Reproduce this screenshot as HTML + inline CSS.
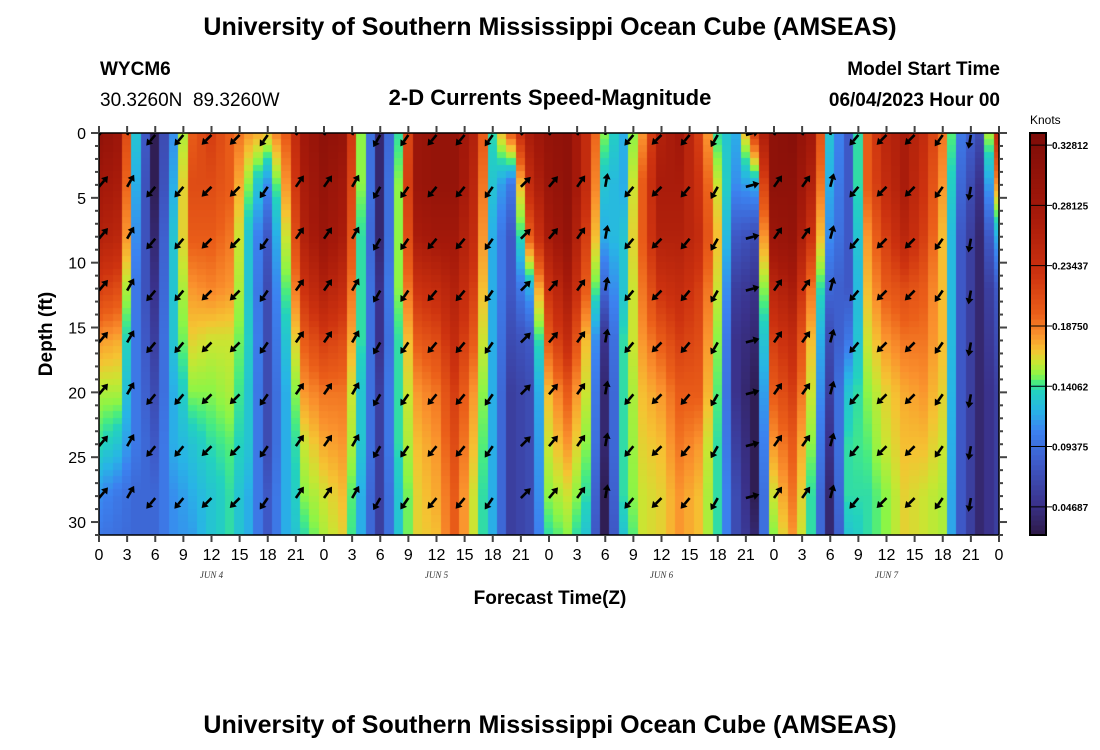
<!DOCTYPE html>
<html><head><meta charset="utf-8"><style>
body{margin:0;background:#fff;width:1100px;height:750px;overflow:hidden;position:relative;font-family:"Liberation Sans",sans-serif}
#heat{position:absolute;left:99px;top:133px}
#ov{position:absolute;left:0;top:0}
</style></head><body>
<canvas id="heat" width="900" height="402"></canvas>
<svg id="ov" width="1100" height="750">
<text x="550" y="35" text-anchor="middle" font-size="25" font-weight="bold">University of Southern Mississippi Ocean Cube (AMSEAS)</text>
<text x="100" y="75" font-size="19" font-weight="bold">WYCM6</text>
<text x="100" y="106" font-size="19" xml:space="preserve">30.3260N  89.3260W</text>
<text x="550" y="105" text-anchor="middle" font-size="22" font-weight="bold">2-D Currents Speed-Magnitude</text>
<text x="1000" y="75" text-anchor="end" font-size="19" font-weight="bold">Model Start Time</text>
<text x="1000" y="106" text-anchor="end" font-size="19" font-weight="bold">06/04/2023 Hour 00</text>
<text transform="translate(52,334) rotate(-90)" text-anchor="middle" font-size="19" font-weight="bold">Depth (ft)</text>
<text x="550" y="604" text-anchor="middle" font-size="19" font-weight="bold">Forecast Time(Z)</text>
<text x="550" y="733" text-anchor="middle" font-size="25" font-weight="bold">University of Southern Mississippi Ocean Cube (AMSEAS)</text>
<text x="1030" y="124" font-size="12">Knots</text>
<g id="arrows"></g>
<g id="axes"></g>
<g id="cbar"></g>
</svg>
<script>
// Data: speed (knots) at depths x hours (every 2 hours, 0..96)
const depths=[0,4,8,12,16,20,24,28,31];
const hours=[0,2,4,6,8,10,12,14,16,18,20,22,24,26,28,30,32,34,36,38,40,42,44,46,48,50,52,54,56,58,60,62,64,66,68,70,72,74,76,78,80,82,84,86,88,90,92,94,96];
const speedCols=[
[.31,.28,.26,.22,.18,.155,.14,.11,.10],
[.29,.27,.25,.21,.175,.155,.13,.10,.095],
[.13,.12,.11,.10,.10,.10,.10,.09,.09],
[.03,.03,.04,.05,.06,.07,.08,.09,.09],
[.11,.12,.13,.13,.13,.12,.12,.11,.11],
[.20,.21,.20,.18,.165,.15,.13,.12,.115],
[.22,.21,.20,.185,.16,.15,.14,.13,.13],
[.20,.20,.19,.18,.16,.155,.145,.14,.14],
[.18,.15,.13,.13,.135,.13,.13,.12,.12],
[.17,.11,.08,.07,.07,.07,.07,.08,.08],
[.20,.18,.16,.145,.13,.12,.12,.12,.12],
[.28,.27,.26,.23,.20,.18,.16,.15,.14],
[.31,.30,.29,.26,.22,.19,.175,.16,.155],
[.30,.28,.27,.24,.21,.19,.18,.17,.165],
[.15,.15,.14,.14,.14,.13,.13,.12,.12],
[.04,.04,.04,.05,.05,.06,.06,.06,.06],
[.14,.15,.15,.15,.14,.14,.14,.13,.13],
[.29,.29,.27,.23,.20,.18,.17,.165,.165],
[.30,.30,.28,.24,.21,.19,.18,.175,.17],
[.30,.30,.28,.26,.24,.22,.21,.20,.20],
[.26,.25,.24,.22,.20,.18,.17,.16,.16],
[.14,.13,.12,.12,.12,.12,.12,.12,.12],
[.20,.10,.08,.08,.07,.06,.06,.06,.06],
[.27,.24,.20,.12,.08,.07,.07,.07,.07],
[.30,.29,.27,.23,.20,.17,.16,.15,.14],
[.31,.31,.30,.27,.24,.20,.18,.16,.15],
[.24,.24,.22,.20,.17,.16,.15,.14,.13],
[.15,.13,.12,.09,.05,.04,.04,.03,.03],
[.12,.12,.13,.13,.14,.14,.14,.14,.13],
[.18,.20,.20,.19,.18,.17,.165,.16,.16],
[.26,.27,.26,.23,.20,.18,.17,.165,.165],
[.28,.27,.26,.24,.22,.20,.19,.18,.18],
[.22,.23,.24,.22,.21,.20,.18,.17,.17],
[.14,.16,.17,.16,.15,.145,.14,.14,.14],
[.12,.11,.08,.06,.05,.05,.06,.07,.07],
[.22,.12,.07,.05,.04,.03,.03,.03,.04],
[.31,.31,.29,.25,.22,.20,.18,.16,.15],
[.32,.31,.30,.27,.24,.22,.20,.19,.18],
[.28,.26,.23,.19,.17,.16,.15,.14,.14],
[.13,.12,.11,.09,.07,.06,.05,.04,.04],
[.08,.08,.08,.08,.10,.13,.14,.14,.13],
[.20,.20,.18,.17,.16,.15,.145,.14,.14],
[.25,.24,.22,.20,.18,.165,.16,.15,.15],
[.27,.27,.25,.21,.19,.175,.17,.165,.165],
[.24,.23,.22,.20,.19,.18,.17,.16,.16],
[.19,.18,.17,.17,.17,.165,.16,.155,.155],
[.10,.09,.08,.08,.08,.08,.08,.08,.08],
[.07,.05,.04,.04,.04,.04,.04,.04,.04],
[.24,.18,.12,.08,.07,.06,.06,.06,.06]
];
// arrow directions (degrees, 0=east, CCW) every 3 hours, 0..93
const arrowHours=[0,3,6,9,12,15,18,21,24,27,30,33,36,39,42,45,48,51,54,57,60,63,66,69,72,75,78,81,84,87,90,93];
const arrowDir=[50,60,230,230,225,225,235,55,55,60,240,235,230,230,235,45,50,55,80,230,225,230,240,15,55,55,75,230,225,225,235,260];
const arrowDepths=[0.15,4.15,8.15,12.15,16.15,20.15,24.15,28.15];
const cbTicks=[0.32812,0.28125,0.23437,0.18750,0.14062,0.09375,0.04687];
const X0=99,W=900,Y0=133,H=402,DMAX=31,HMAX=96,VMIN=0.025,VMAX=0.3375;
const xs=h=>X0+h/HMAX*W, ys=d=>Y0+d/DMAX*H;
const stops=[[0,[45,25,70]],[0.08,[58,50,140]],[0.18,[62,90,200]],[0.26,[60,130,240]],[0.31,[40,180,230]],[0.36,[35,210,190]],[0.38,[70,235,130]],[0.40,[140,245,70]],[0.43,[200,230,50]],[0.46,[245,195,50]],[0.5,[250,145,45]],[0.55,[235,95,25]],[0.65,[205,50,15]],[0.8,[165,25,10]],[1,[125,12,8]]];
function col(v){let t=Math.max(0,Math.min(1,(v-VMIN)/(VMAX-VMIN)));for(let i=1;i<stops.length;i++){if(t<=stops[i][0]){const a=stops[i-1],b=stops[i],f=(t-a[0])/(b[0]-a[0]);return 'rgb('+a[1].map((c,k)=>Math.round(c+(b[1][k]-c)*f)).join(',')+')';}}return 'rgb(125,12,8)';}
function sample(h,d){let i=0;while(i<hours.length-2&&h>hours[i+1])i++;let fh=Math.max(0,Math.min(1,(h-hours[i])/(hours[i+1]-hours[i])));let j=0;while(j<depths.length-2&&d>depths[j+1])j++;let fd=Math.max(0,Math.min(1,(d-depths[j])/(depths[j+1]-depths[j])));
const a=speedCols[i][j]*(1-fd)+speedCols[i][j+1]*fd,b=speedCols[i+1][j]*(1-fd)+speedCols[i+1][j+1]*fd;return a*(1-fh)+b*fh;}
const cv=document.getElementById('heat').getContext('2d');
for(let h=0;h<=HMAX;h++){for(let k=0;k<62;k++){const d=k*0.5;cv.fillStyle=col(sample(h,d+0.25));const x1=xs(h-0.5)-X0,x2=xs(h+0.5)-X0;cv.fillRect(Math.floor(x1),Math.floor(ys(d)-Y0),Math.ceil(x2-x1)+1,Math.ceil(H/62)+1);}}
const NS='http://www.w3.org/2000/svg';
function mk(tag,attrs,parent){const e=document.createElementNS(NS,tag);for(const k in attrs)e.setAttribute(k,attrs[k]);parent.appendChild(e);return e;}
const ag=document.getElementById('arrows');
mk('clipPath',{id:'pc'},ag);mk('rect',{x:X0,y:Y0,width:W,height:H},document.getElementById('pc'));
ag.setAttribute('clip-path','url(#pc)');
arrowHours.forEach((h,i)=>{arrowDepths.forEach(d=>{
 const a=arrowDir[i]*Math.PI/180,L=14,x=xs(h),y=ys(d),ex=x+L*Math.cos(a),ey=y-L*Math.sin(a);
 const g=mk('g',{},ag);
 
 
 const bx=x+(L-6)*Math.cos(a),by=y-(L-6)*Math.sin(a),px=-Math.sin(a)*4,py=-Math.cos(a)*4;
 mk('line',{x1:x,y1:y,x2:bx,y2:by,stroke:'#000','stroke-width':2.6},g);
 mk('polygon',{points:`${ex},${ey} ${bx+px},${by+py} ${bx-px},${by-py}`,fill:'#000'},g);
});});
const ax=document.getElementById('axes');
mk('rect',{x:X0,y:Y0,width:W,height:H,fill:'none',stroke:'#000','stroke-width':1.5},ax);
for(let h=0;h<=HMAX;h+=3){const x=xs(h);
 mk('line',{x1:x,y1:Y0+H,x2:x,y2:Y0+H+7,stroke:'#444','stroke-width':2},ax);
 mk('line',{x1:x,y1:Y0,x2:x,y2:Y0-7,stroke:'#444','stroke-width':2},ax);
 const t=mk('text',{x:x,y:560,'text-anchor':'middle','font-size':16},ax);t.textContent=String(h%24);
 
 }
['JUN 4','JUN 5','JUN 6','JUN 7'].forEach((s,i)=>{const t=mk('text',{x:xs(12+24*i),y:578,'text-anchor':'middle','font-size':9,'font-style':'italic','font-family':'Liberation Serif, serif',fill:'#333'},ax);t.textContent=s;
 
 });
for(let d=0;d<=DMAX;d++){const y=ys(d),L=d%5==0?8:4;
 mk('line',{x1:X0,y1:y,x2:X0-L,y2:y,stroke:'#444','stroke-width':2},ax);
 mk('line',{x1:X0+W,y1:y,x2:X0+W+L,y2:y,stroke:'#444','stroke-width':2},ax);
 if(d%5==0){const t=mk('text',{x:86,y:y+6,'text-anchor':'end','font-size':16},ax);t.textContent=String(d);
 
 }}
const cb=document.getElementById('cbar');
const CX=1030,CW=16;
for(let i=0;i<80;i++){const v=VMIN+(VMAX-VMIN)*(i+0.5)/80;const y=Y0+H-(i+1)*H/80;mk('rect',{x:CX,y:y,width:CW,height:H/80+0.6,fill:col(v)},cb);}
mk('rect',{x:CX,y:Y0,width:CW,height:H,fill:'none',stroke:'#000','stroke-width':2},cb);
cbTicks.forEach(v=>{const y=Y0+H-(v-VMIN)/(VMAX-VMIN)*H;
 mk('line',{x1:CX,y1:y,x2:CX+CW+6,y2:y,stroke:'#000','stroke-width':1},cb);
 const t=mk('text',{x:1052,y:y+4,'font-size':10,'font-weight':'bold'},cb);t.textContent=v.toFixed(5);
 
 });
</script>
</body></html>
